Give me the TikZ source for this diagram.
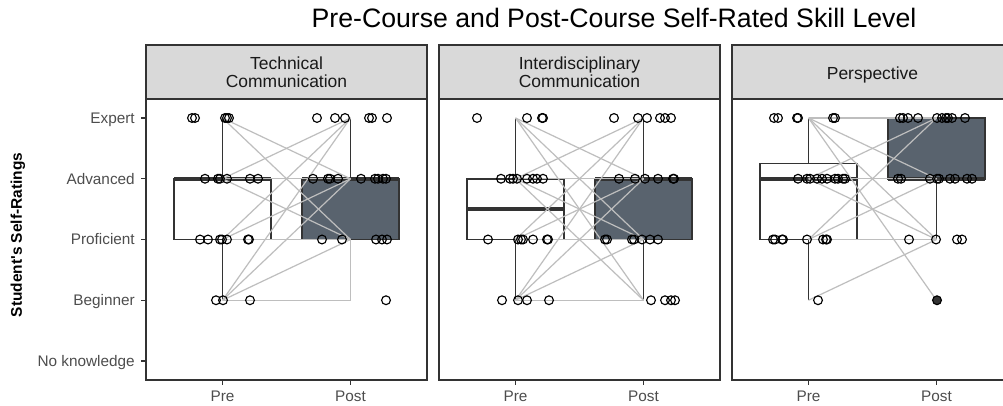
\documentclass[tikz,border=0pt]{standalone}
\usepackage{fontspec}
\setmainfont{Liberation Sans}
\usetikzlibrary{positioning}
\definecolor{postcolor}{RGB}{89,99,110}
\definecolor{stripcolor}{RGB}{217,217,217}
\definecolor{framecolor}{RGB}{51,51,51}
\definecolor{pathcolor}{RGB}{190,190,190}
\definecolor{labelcolor}{RGB}{77,77,77}
\newcommand{\lvl}[1]{421.75-60.75*#1}

\begin{document}
\begin{tikzpicture}[
    x=0.75pt, y=-0.75pt,
    panel/.style={draw=framecolor, line width=0.8pt},
    strip/.style={draw=framecolor, fill=stripcolor, line width=0.8pt},
    box/.style={draw=framecolor, line width=1.4pt},
    median/.style={draw=framecolor, line width=3pt},
    pair/.style={draw=pathcolor, line width=0.9pt},
    obs/.style={draw=black, line width=0.85pt},
    axtick/.style={draw=framecolor, line width=0.8pt},
    ticklab/.style={font=\fontsize{11.5}{13}\selectfont, text=labelcolor, inner sep=0pt},
    striplab/.style={font=\fontsize{13.1}{13.5}\selectfont, text=black!90, align=center, inner sep=0pt}
]
\useasboundingbox (0,0) rectangle (1003,406);
\clip (0,0) rectangle (1003,406);

% Title and y axis
\node[font=\fontsize{20}{24}\selectfont, anchor=base] (title) at (614,28) {Pre-Course and Post-Course Self-Rated Skill Level};
\node[font=\bfseries\fontsize{11.6}{14}\selectfont, rotate=90] (ytitle) at (18,235) {Student\textquotesingle s Self-Ratings};
\foreach \v/\lab in {5/Expert, 4/Advanced, 3/Proficient, 2/Beginner, 1/No knowledge} {
  \draw[axtick] (141,{\lvl{\v}}) -- (146,{\lvl{\v}});
  \node[ticklab, anchor=base east] (ylab-\v) at (135,{\lvl{\v}+5.4}) {\lab};
}

% Panel 1: Technical Communication
\begin{scope}[shift={(146,0)}]
\draw[strip] (0,45) rectangle (281,99);
\node[striplab] (tc-strip) at (140.5,72) {Technical\\Communication};
\draw[panel, fill=white] (0,99) rectangle (281,380);
\foreach \v in {2,...,5} {
  \coordinate (tc-pre-\v) at (76.5,{\lvl{\v}});
  \coordinate (tc-post-\v) at (204.5,{\lvl{\v}});
}
\draw[box] (28,{\lvl{3}}) rectangle (125,{\lvl{4}});
\draw[box, fill=postcolor] (156,{\lvl{3}}) rectangle (253,{\lvl{4}});
\draw[median] (28,{\lvl{4}}) -- (125,{\lvl{4}});
\draw[median] (156,{\lvl{4}}) -- (253,{\lvl{4}});
\draw[box] (tc-pre-4) -- (tc-pre-5);
\draw[box] (tc-pre-3) -- (tc-pre-2);
\draw[box] (tc-post-4) -- (tc-post-5);
\draw[pair] (tc-post-3) -- (tc-post-2);
\foreach \a/\b in {5/4,5/3,4/5,4/4,4/3,3/5,3/4,3/3,2/5,2/4,2/3,2/2}
  \draw[pair] (tc-pre-\a) -- (tc-post-\b);
\foreach \x in {46,49,79,81,83} \draw[obs] (\x,{\lvl{5}}) circle[radius=3.3pt];
\foreach \x in {171,189,199,223,226,241} \draw[obs] (\x,{\lvl{5}}) circle[radius=3.3pt];
\foreach \x in {59,72,74,81,104,112} \draw[obs] (\x,{\lvl{4}}) circle[radius=3.3pt];
\foreach \x in {167,182,184,192,215,229,232,237,240} \draw[obs] (\x,{\lvl{4}}) circle[radius=3.3pt];
\foreach \x in {54,62,74,76,81,102,103} \draw[obs] (\x,{\lvl{3}}) circle[radius=3.3pt];
\foreach \x in {176,196,230,236,241} \draw[obs] (\x,{\lvl{3}}) circle[radius=3.3pt];
\foreach \x in {70,77,104} \draw[obs] (\x,{\lvl{2}}) circle[radius=3.3pt];
\foreach \x in {240} \draw[obs] (\x,{\lvl{2}}) circle[radius=3.3pt];
\draw[axtick] (76.5,380) -- (76.5,385);
\draw[axtick] (204.5,380) -- (204.5,385);
\node[ticklab, anchor=base] (tc-pre) at (76.5,401) {Pre};
\node[ticklab, anchor=base] (tc-post) at (204.5,401) {Post};
\end{scope}

% Panel 2: Interdisciplinary Communication
\begin{scope}[shift={(439,0)}]
\draw[strip] (0,45) rectangle (281,99);
\node[striplab] (ic-strip) at (140.5,72) {Interdisciplinary\\Communication};
\draw[panel, fill=white] (0,99) rectangle (281,380);
\foreach \v in {2,...,5} {
  \coordinate (ic-pre-\v) at (76.5,{\lvl{\v}});
  \coordinate (ic-post-\v) at (204.5,{\lvl{\v}});
}
\draw[box] (28,{\lvl{3}}) rectangle (125,{\lvl{4}});
\draw[box, fill=postcolor] (156,{\lvl{3}}) rectangle (253,{\lvl{4}});
\draw[median] (28,{\lvl{3.5}}) -- (125,{\lvl{3.5}});
\draw[median] (156,{\lvl{4}}) -- (253,{\lvl{4}});
\draw[box] (ic-pre-4) -- (ic-pre-5);
\draw[box] (ic-pre-3) -- (ic-pre-2);
\draw[box] (ic-post-4) -- (ic-post-5);
\draw[box] (ic-post-3) -- (ic-post-2);
\foreach \a/\b in {5/4,5/3,5/2,4/5,4/4,4/3,4/2,3/5,3/4,3/3,2/5,2/4,2/3,2/2}
  \draw[pair] (ic-pre-\a) -- (ic-post-\b);
\foreach \x in {38,88,103,104} \draw[obs] (\x,{\lvl{5}}) circle[radius=3.3pt];
\foreach \x in {175,199,208,221,226,232} \draw[obs] (\x,{\lvl{5}}) circle[radius=3.3pt];
\foreach \x in {62,71,74,78,88,94,98,104} \draw[obs] (\x,{\lvl{4}}) circle[radius=3.3pt];
\foreach \x in {180,196,206,219,234,235} \draw[obs] (\x,{\lvl{4}}) circle[radius=3.3pt];
\foreach \x in {49,79,82,84,94,108,109} \draw[obs] (\x,{\lvl{3}}) circle[radius=3.3pt];
\foreach \x in {166,168,193,195,203,211,219} \draw[obs] (\x,{\lvl{3}}) circle[radius=3.3pt];
\foreach \x in {63,79,88,110} \draw[obs] (\x,{\lvl{2}}) circle[radius=3.3pt];
\foreach \x in {212,226,232,236} \draw[obs] (\x,{\lvl{2}}) circle[radius=3.3pt];
\draw[axtick] (76.5,380) -- (76.5,385);
\draw[axtick] (204.5,380) -- (204.5,385);
\node[ticklab, anchor=base] (ic-pre) at (76.5,401) {Pre};
\node[ticklab, anchor=base] (ic-post) at (204.5,401) {Post};
\end{scope}

% Panel 3: Perspective
\begin{scope}[shift={(732,0)}]
\draw[strip] (0,45) rectangle (281,99);
\node[striplab, anchor=base] (pe-strip) at (140.5,79.3) {Perspective};
\draw[panel, fill=white] (0,99) rectangle (281,380);
\foreach \v in {2,...,5} {
  \coordinate (pe-pre-\v) at (76.5,{\lvl{\v}});
  \coordinate (pe-post-\v) at (204.5,{\lvl{\v}});
}
\draw[box] (28,{\lvl{3}}) rectangle (125,{\lvl{4.25}});
\draw[box, fill=postcolor] (156,{\lvl{4}}) rectangle (253,{\lvl{5}});
\draw[median] (28,{\lvl{4}}) -- (125,{\lvl{4}});
\draw[median] (156,{\lvl{4}}) -- (253,{\lvl{4}});
\draw[box] (76.5,{\lvl{4.25}}) -- (pe-pre-5);
\draw[box] (pe-pre-3) -- (pe-pre-2);
\draw[box] (pe-post-4) -- (pe-post-3);
\foreach \a/\b in {5/5,5/4,5/3,5/2,4/5,4/4,4/3,3/5,3/4,3/3,2/3}
  \draw[pair] (pe-pre-\a) -- (pe-post-\b);
\foreach \x in {42,46,65,66,101,103} \draw[obs] (\x,{\lvl{5}}) circle[radius=3.3pt];
\foreach \x in {168,171,176,186,205,210,214,216,220,233} \draw[obs] (\x,{\lvl{5}}) circle[radius=3.3pt];
\foreach \x in {66,75,78,85,90,95,103,106,111,113} \draw[obs] (\x,{\lvl{4}}) circle[radius=3.3pt];
\foreach \x in {166,169,198,205,207,218,223,235,240} \draw[obs] (\x,{\lvl{4}}) circle[radius=3.3pt];
\foreach \x in {41,43,50,51,75,91,94,95} \draw[obs] (\x,{\lvl{3}}) circle[radius=3.3pt];
\foreach \x in {177,204,225,230} \draw[obs] (\x,{\lvl{3}}) circle[radius=3.3pt];
\draw[obs] (86,{\lvl{2}}) circle[radius=3.3pt];
\draw[obs, fill=black!80] (205,{\lvl{2}}) circle[radius=3.3pt];
\draw[axtick] (76.5,380) -- (76.5,385);
\draw[axtick] (204.5,380) -- (204.5,385);
\node[ticklab, anchor=base] (pe-pre) at (76.5,401) {Pre};
\node[ticklab, anchor=base] (pe-post) at (204.5,401) {Post};
\end{scope}
\end{tikzpicture}
\end{document}
